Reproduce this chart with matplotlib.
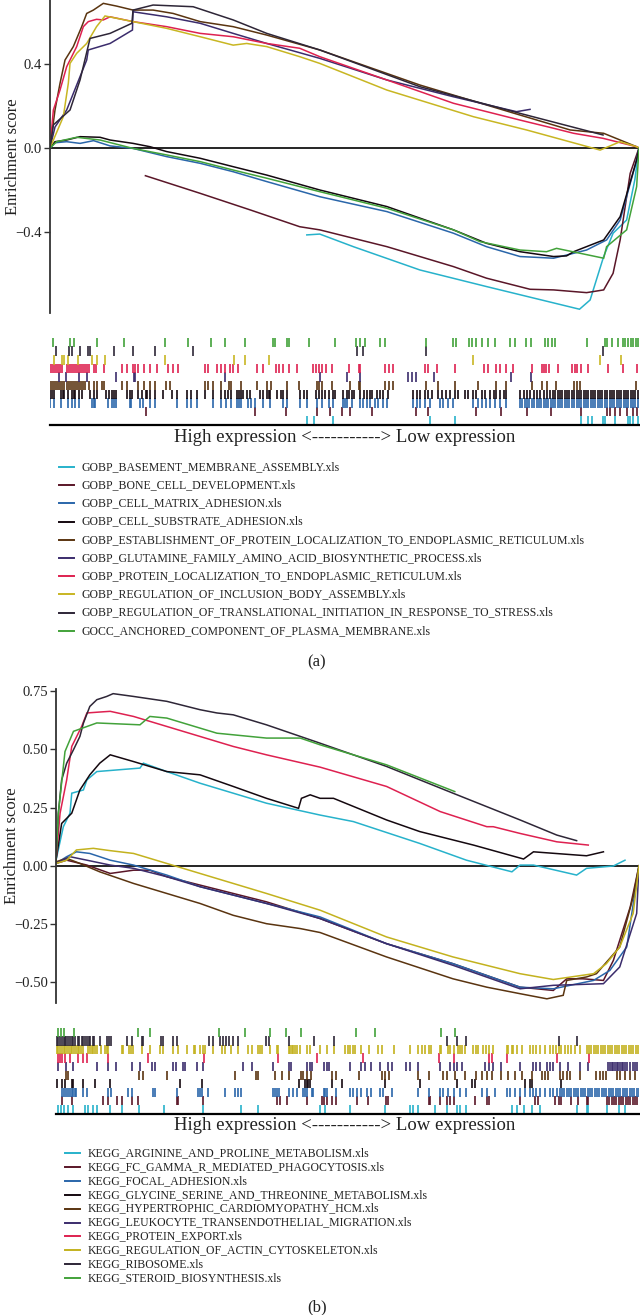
import matplotlib
matplotlib.use('Agg')
import matplotlib.pyplot as plt

plt.rcParams['font.family'] = ['Liberation Serif', 'DejaVu Serif']
plt.rcParams['axes.unicode_minus'] = True

# ---------------- panel (a) data: (rank %, enrichment score) ----------------
names_a = ['GOBP_BASEMENT_MEMBRANE_ASSEMBLY.xls', 'GOBP_BONE_CELL_DEVELOPMENT.xls',
           'GOBP_CELL_MATRIX_ADHESION.xls', 'GOBP_CELL_SUBSTRATE_ADHESION.xls',
           'GOBP_ESTABLISHMENT_OF_PROTEIN_LOCALIZATION_TO_ENDOPLASMIC_RETICULUM.xls',
           'GOBP_GLUTAMINE_FAMILY_AMINO_ACID_BIOSYNTHETIC_PROCESS.xls',
           'GOBP_PROTEIN_LOCALIZATION_TO_ENDOPLASMIC_RETICULUM.xls',
           'GOBP_REGULATION_OF_INCLUSION_BODY_ASSEMBLY.xls',
           'GOBP_REGULATION_OF_TRANSLATIONAL_INITIATION_IN_RESPONSE_TO_STRESS.xls',
           'GOCC_ANCHORED_COMPONENT_OF_PLASMA_MEMBRANE.xls']

a_basement = [(43.6, -0.414), (45.8, -0.41), (51.5, -0.47), (62.8, -0.581), (74.1, -0.66), (89.9, -0.768),
              (91.7, -0.724), (94.0, -0.517), (95.6, -0.406), (97.9, -0.343), (99.3, -0.15), (100, 0.0)]
a_bone = [(16.2, -0.132), (25.5, -0.216), (34.0, -0.295), (42.4, -0.375), (45.8, -0.39), (57.2, -0.47),
          (68.5, -0.565), (74.1, -0.62), (81.5, -0.673), (85.5, -0.676), (91.1, -0.689), (94.0, -0.676),
          (95.6, -0.597), (96.8, -0.438), (98.5, -0.121), (100, 0.0)]
a_matrix = [(0, 0), (0.85, 0.025), (2.83, 0.03), (5.1, 0.022), (7.4, 0.035), (10.2, 0.01), (14.1, -0.002),
            (19.8, -0.041), (25.5, -0.073), (31.1, -0.113), (36.8, -0.16), (45.8, -0.232), (57.2, -0.303),
            (68.5, -0.406), (74.1, -0.47), (79.8, -0.517), (85.5, -0.525), (87.7, -0.51), (91.1, -0.486),
            (94.5, -0.438), (96.8, -0.343), (99.3, -0.089), (100, 0)]
a_substrate = [(0, 0), (0.85, 0.03), (2.83, 0.038), (5.1, 0.054), (8.5, 0.051), (10.2, 0.038), (14.1, 0.022),
               (17.0, 0.006), (19.8, -0.017), (25.5, -0.049), (31.1, -0.089), (36.8, -0.129), (45.8, -0.2),
               (57.2, -0.279), (68.5, -0.39), (74.1, -0.454), (79.8, -0.494), (85.5, -0.517), (87.7, -0.514),
               (88.9, -0.494), (94.0, -0.438), (96.8, -0.327), (99.6, -0.057), (100, 0)]
a_establish = [(0, 0), (0.85, 0.181), (1.7, 0.308), (2.55, 0.419), (3.96, 0.483), (5.38, 0.578), (6.23, 0.641),
               (7.36, 0.657), (9.05, 0.689), (11.3, 0.676), (14.1, 0.657), (17.5, 0.657), (20.9, 0.641),
               (25.5, 0.602), (31.1, 0.578), (36.8, 0.538), (45.8, 0.467), (62.8, 0.30), (79.8, 0.157),
               (88.3, 0.086), (94.0, 0.07), (99.6, 0.006), (100, 0)]
a_glutamine = [(0, 0), (0.85, 0.10), (2.83, 0.181), (6.23, 0.419), (6.5, 0.467), (10.2, 0.498), (14.0, 0.562),
               (14.1, 0.649), (19.8, 0.625), (25.5, 0.594), (31.1, 0.546), (36.8, 0.498), (45.8, 0.427),
               (57.2, 0.324), (68.5, 0.244), (79.2, 0.173), (81.5, 0.184)]
a_protein_er = [(0, 0), (0.57, 0.181), (1.7, 0.276), (2.83, 0.387), (4.53, 0.483), (5.66, 0.578), (6.5, 0.602),
                (7.9, 0.613), (9.05, 0.61), (10.2, 0.625), (14.1, 0.602), (19.8, 0.578), (25.5, 0.546),
                (31.1, 0.53), (36.8, 0.498), (42.4, 0.475), (45.8, 0.435), (57.2, 0.324), (68.5, 0.213),
                (79.8, 0.133), (85.5, 0.094), (88.9, 0.07), (93.9, 0.046), (99.6, 0.006), (100, 0)]
a_inclusion = [(0, 0), (2.26, 0.149), (3.11, 0.308), (3.4, 0.403), (4.53, 0.451), (6.23, 0.498), (7.9, 0.578),
               (9.34, 0.629), (14.1, 0.602), (19.8, 0.57), (25.5, 0.53), (31.1, 0.49), (33.4, 0.498),
               (36.8, 0.483), (42.4, 0.435), (45.8, 0.403), (57.2, 0.276), (71.9, 0.149), (80.9, 0.086),
               (93.4, -0.01), (96.8, 0.03), (99.6, 0.006), (100, 0)]
a_translation = [(0, 0), (0.57, 0.11), (3.4, 0.181), (5.1, 0.324), (6.8, 0.522), (10.2, 0.546), (13.9, 0.594),
                 (14.1, 0.657), (17.5, 0.681), (24.3, 0.673), (31.1, 0.61), (36.8, 0.546), (45.8, 0.467),
                 (62.8, 0.292), (79.8, 0.165), (93.9, 0.062)]
a_anchored = [(0, 0), (1.13, 0.03), (4.53, 0.051), (8.5, 0.038), (14.1, -0.002), (19.8, -0.033), (25.5, -0.065),
              (31.1, -0.105), (36.8, -0.144), (45.8, -0.208), (57.2, -0.287), (68.5, -0.39), (73.0, -0.446),
              (79.8, -0.486), (84.3, -0.494), (86.0, -0.478), (94.0, -0.525), (94.5, -0.47), (97.9, -0.39),
              (99.6, -0.184), (100, 0)]

# hit positions (rank %) for the rug rows of panel (a)
ra_basement = [43.6, 44.8, 48.1, 64.5, 68.8, 90.1, 91.4, 92.0, 93.9, 94.2, 95.9, 98.2, 98.5, 98.9, 99.8]
ra_bone = [16.3, 34.8, 40.1, 45.4, 47.5, 49.5, 50.9, 54.6, 62.1, 64.2, 72.3, 76.6, 81.0, 85.0, 90.1, 94.5,
           95.0, 95.9, 96.8, 97.9, 99.0, 99.6]
ra_matrix = [0, 0.7, 1.8, 3.1, 3.7, 4.2, 5.0, 7.1, 7.4, 7.6, 9.9, 10.5, 10.9, 11.2, 13.5, 13.7, 15.2, 15.8,
             17.0, 17.8, 21.5, 23.2, 23.9, 24.9, 27.6, 29.1, 29.9, 30.8, 31.8, 32.1, 32.5, 33.7, 34.2, 34.8,
             36.2, 37.4, 39.6, 40.2, 42.4, 43.6, 45.3, 46.1, 47.3, 48.1, 49.8, 50.1, 50.5, 51.2, 52.6, 53.2,
             53.8, 54.3, 55.2, 55.7, 56.6, 57.2, 61.7, 62.3, 62.8, 63.7, 64.5, 66.2, 66.8, 67.6, 68.5, 71.9,
             72.7, 73.3, 74.1, 74.7, 75.6, 76.4, 77.5, 79.8, 80.2, 80.6, 81.0, 81.4, 81.8, 82.2, 82.6, 83.0,
             83.4, 83.8, 84.2, 84.6, 85.0, 85.4, 85.8, 86.2, 86.6, 87.0, 87.4, 87.8, 88.2, 88.6, 89.0, 89.4,
             89.8, 90.2, 90.6, 91.0, 91.4, 91.8, 92.2, 92.6, 93.0, 93.4, 93.8, 94.2, 94.6, 95.0, 95.4, 95.8,
             96.2, 96.6, 97.0, 97.4, 97.8, 98.2, 98.6, 99.0, 99.4, 99.8]
ra_substrate = [0, 0.3, 0.7, 1.8, 2.2, 2.4, 3.1, 3.7, 4.0, 4.2, 5.0, 5.5, 6.8, 7.4, 7.9, 9.5, 10.0, 10.5,
                10.9, 11.2, 13.1, 13.6, 13.9, 15.0, 15.6, 16.3, 16.5, 17.0, 17.8, 19.2, 20.7, 21.5, 23.2,
                23.9, 24.9, 26.3, 27.7, 29.1, 29.7, 30.3, 30.8, 31.7, 32.1, 32.5, 32.8, 33.5, 34.0, 35.7,
                36.2, 36.8, 37.1, 37.4, 38.6, 39.2, 39.6, 40.2, 42.4, 43.1, 43.6, 45.2, 45.6, 46.1, 46.7,
                47.3, 48.0, 48.4, 49.8, 50.4, 50.7, 51.2, 51.6, 52.6, 53.3, 53.8, 54.3, 54.6, 55.5, 56.0,
                56.5, 57.4, 61.7, 62.3, 62.8, 63.7, 64.2, 64.8, 65.9, 66.5, 67.3, 67.9, 68.8, 69.3, 70.5,
                71.0, 71.9, 72.4, 73.3, 73.9, 74.7, 75.3, 75.8, 76.4, 77.0, 77.5, 79.8, 80.4, 80.9, 81.5,
                82.1, 82.6, 83.2, 83.8, 84.3, 84.9, 85.4, 85.8, 86.2, 86.6, 87.0, 87.4, 87.8, 88.2, 88.6,
                89.0, 89.4, 89.8, 90.2, 90.6, 91.0, 91.4, 91.8, 92.2, 92.6, 93.0, 93.4, 93.8, 94.2, 94.6,
                95.0, 95.4, 95.8, 96.2, 96.6, 97.0, 97.4, 97.8, 98.2, 98.6, 99.0, 99.4, 99.8]
ra_establish = [0, 0.34, 0.68, 1.0, 1.36, 1.7, 2.04, 2.38, 2.94, 3.28, 3.62, 3.96, 4.3, 4.64, 4.98, 5.32, 5.66,
                6.0, 6.7, 7.4, 7.9, 8.8, 9.2, 12.2, 13.0, 15.0, 16.0, 16.9, 17.8, 19.7, 20.4, 26.3, 26.9, 27.7,
                29.1, 30.4, 30.8, 32.5, 35.1, 36.8, 37.6, 40.2, 42.2, 45.3, 45.7, 46.1, 47.8, 50.9, 52.4, 52.6,
                56.9, 57.6, 58.3, 63.9, 65.8, 68.8, 72.6, 75.8, 77.4, 81.9, 83.5, 84.3, 85.9, 88.9, 89.5, 90.0,
                99.5]
ra_glutamine = [1.6, 2.8, 5.0, 6.2, 11.2, 14.3, 14.4, 29.7, 45.8, 50.4, 52.7, 60.8, 61.4, 62.1, 65.2, 78.2, 81.6]
ra_protein_er = [0, 0.34, 0.68, 1.0, 1.36, 1.7, 2.04, 2.94, 3.28, 3.62, 3.96, 4.3, 4.64, 4.98, 5.32, 5.66, 6.0,
                 6.34, 6.68, 7.4, 7.8, 9.1, 12.2, 13.0, 14.1, 14.4, 15.0, 16.0, 16.9, 18.1, 20.0, 20.9, 21.8,
                 26.3, 26.9, 28.3, 29.1, 29.7, 30.6, 31.1, 32.0, 35.1, 36.2, 38.4, 38.9, 39.5, 40.5, 41.9, 44.7,
                 45.2, 45.6, 46.1, 46.9, 47.8, 50.8, 52.5, 52.6, 56.9, 57.6, 58.3, 63.7, 64.1, 65.7, 68.8, 73.7,
                 74.4, 75.8, 76.4, 77.4, 78.6, 81.8, 83.5, 83.9, 84.2, 84.8, 86.3, 88.7, 89.1, 89.5, 90.1, 91.4,
                 94.8, 97.2, 99.6]
ra_inclusion = [0.7, 2.1, 2.4, 3.1, 4.8, 7.1, 8.0, 9.3, 19.5, 31.2, 33.1, 37.1, 71.9, 93.4, 96.9]
ra_translation = [1.0, 3.3, 3.7, 5.1, 6.5, 6.8, 10.9, 14.1, 17.8, 24.2, 52.1, 53.2, 63.9, 93.9]
ra_anchored = [0.45, 3.4, 4.1, 8.0, 12.5, 19.5, 23.5, 27.4, 29.7, 33.1, 37.9, 38.2, 40.2, 40.6, 43.9, 48.4,
               51.9, 52.6, 53.5, 56.1, 56.9, 63.8, 68.5, 68.9, 71.1, 71.7, 72.3, 73.3, 74.3, 75.6, 78.1, 79.0,
               80.8, 81.7, 84.0, 84.6, 85.2, 85.7, 91.1, 94.2, 94.5, 95.5, 96.4, 97.3, 97.6, 98.2, 98.6, 99.0,
               99.5, 99.9]

# ---------------- panel (b) data ----------------
names_b = ['KEGG_ARGININE_AND_PROLINE_METABOLISM.xls', 'KEGG_FC_GAMMA_R_MEDIATED_PHAGOCYTOSIS.xls',
           'KEGG_FOCAL_ADHESION.xls', 'KEGG_GLYCINE_SERINE_AND_THREONINE_METABOLISM.xls',
           'KEGG_HYPERTROPHIC_CARDIOMYOPATHY_HCM.xls', 'KEGG_LEUKOCYTE_TRANSENDOTHELIAL_MIGRATION.xls',
           'KEGG_PROTEIN_EXPORT.xls', 'KEGG_REGULATION_OF_ACTIN_CYTOSKELETON.xls',
           'KEGG_RIBOSOME.xls', 'KEGG_STEROID_BIOSYNTHESIS.xls']

b_arginine = [(0, 0.024), (1.26, 0.168), (2.4, 0.226), (2.7, 0.312), (4.7, 0.326), (5.3, 0.369), (7.0, 0.405),
              (14.4, 0.42), (15.0, 0.441), (19.0, 0.405), (24.7, 0.355), (30.4, 0.312), (36.1, 0.269),
              (45.3, 0.218), (51.0, 0.19), (62.4, 0.096), (70.4, 0.024), (78.2, -0.026), (79.6, 0.003),
              (81.9, 0.003), (89.3, -0.04), (91.0, -0.011), (95.6, -0.001), (97.6, 0.024)]
b_fcgamma = [(0, 0.01), (1.83, 0.024), (5.3, 0.003), (9.3, -0.033), (13.3, -0.019), (16.1, -0.019),
             (19.0, -0.047), (24.7, -0.083), (36.1, -0.155), (45.3, -0.227), (56.7, -0.335), (68.1, -0.421),
             (79.6, -0.522), (85.3, -0.536), (87.6, -0.486), (90.4, -0.486), (93.9, -0.493), (95.6, -0.407),
             (98.5, -0.177), (100, 0)]
b_focal = [(0, 0.01), (1.83, 0.039), (3.5, 0.06), (5.8, 0.053), (9.3, 0.024), (13.3, 0.003), (19.0, -0.04),
           (24.7, -0.09), (36.1, -0.162), (45.3, -0.22), (56.7, -0.335), (68.1, -0.421), (79.6, -0.522),
           (85.3, -0.529), (92.2, -0.493), (95.0, -0.45), (97.9, -0.349), (100, 0)]
b_glycine = [(0, 0.024), (0.97, 0.182), (2.7, 0.226), (4.1, 0.326), (5.8, 0.391), (7.5, 0.441), (9.3, 0.477),
             (13.3, 0.448), (19.0, 0.405), (24.7, 0.391), (30.4, 0.341), (36.1, 0.29), (41.6, 0.247),
             (42.1, 0.29), (43.6, 0.305), (45.3, 0.29), (47.6, 0.29), (56.7, 0.197), (62.4, 0.147),
             (71.6, 0.089), (80.2, 0.029), (81.9, 0.06), (91.0, 0.043), (93.9, 0.06)]
b_hypertrophic = [(0, 0.017), (1.83, 0.032), (4.1, 0.01), (7.5, -0.026), (13.3, -0.076), (19.0, -0.119),
                  (24.7, -0.162), (30.4, -0.213), (36.1, -0.249), (41.9, -0.27), (45.3, -0.287), (56.7, -0.392),
                  (68.1, -0.486), (73.9, -0.522), (79.6, -0.55), (84.2, -0.572), (87.0, -0.557), (87.6, -0.493),
                  (91.0, -0.478), (92.7, -0.464), (96.7, -0.349), (99.0, -0.134), (100, 0)]
b_leukocyte = [(0, 0.01), (2.4, 0.039), (5.3, 0.024), (9.3, 0.003), (13.3, -0.011), (19.0, -0.047),
               (24.7, -0.09), (36.1, -0.162), (45.3, -0.227), (56.7, -0.335), (68.1, -0.428), (79.6, -0.529),
               (85.3, -0.514), (93.9, -0.507), (96.7, -0.435), (99.6, -0.205), (100, 0)]
b_export = [(0, 0.024), (0.7, 0.226), (1.83, 0.369), (2.7, 0.513), (4.4, 0.599), (5.3, 0.657), (7.5, 0.661),
            (9.3, 0.664), (13.3, 0.642), (19.0, 0.599), (24.7, 0.556), (30.4, 0.513), (36.1, 0.477),
            (45.3, 0.424), (56.7, 0.341), (65.9, 0.233), (73.9, 0.168), (75.0, 0.168), (79.6, 0.139),
            (85.9, 0.103), (91.3, 0.089)]
b_actin = [(0, 0.01), (1.83, 0.024), (3.5, 0.068), (6.4, 0.075), (9.3, 0.065), (13.3, 0.053), (19.0, 0.01),
           (24.7, -0.033), (36.1, -0.119), (45.3, -0.191), (56.7, -0.306), (68.1, -0.392), (79.6, -0.464),
           (85.3, -0.489), (92.2, -0.464), (94.4, -0.421), (96.7, -0.349), (99.0, -0.205), (100, 0)]
b_ribosome = [(0, 0.024), (0.4, 0.226), (0.97, 0.369), (1.83, 0.441), (3.0, 0.499), (4.1, 0.556), (4.7, 0.613),
              (5.8, 0.685), (7.0, 0.714), (8.7, 0.728), (9.8, 0.74), (13.3, 0.728), (19.0, 0.707), (24.7, 0.671),
              (27.6, 0.657), (30.4, 0.649), (36.1, 0.606), (45.3, 0.527), (56.7, 0.427), (68.1, 0.312),
              (79.6, 0.197), (85.9, 0.132), (89.3, 0.108)]
b_steroid = [(0, 0.024), (0.4, 0.226), (1.54, 0.491), (3.0, 0.578), (7.0, 0.614), (14.4, 0.606), (16.1, 0.642),
             (19.0, 0.635), (27.6, 0.57), (36.1, 0.549), (41.9, 0.549), (45.3, 0.52), (56.7, 0.434), (68.4, 0.319)]

rb_arginine = [0.4, 0.8, 1.4, 2.1, 2.9, 5.0, 5.5, 6.4, 7.0, 9.3, 11.3, 14.3, 18.5, 25.3, 31.8, 34.7, 45.3, 46.1,
               50.4, 56.4, 60.7, 61.3, 62.1, 65.0, 67.0, 68.7, 69.3, 70.4, 78.2, 79.0, 80.2, 81.6, 83.0, 89.3,
               91.0, 91.3, 94.5, 96.5, 97.6]
rb_fcgamma = [1.0, 2.7, 8.1, 9.0, 10.4, 11.4, 13.0, 14.1, 20.7, 21.0, 25.3, 37.9, 38.4, 39.6, 43.0, 45.6, 45.9,
              46.4, 47.3, 48.1, 51.6, 53.6, 56.6, 57.0, 63.9, 64.1, 65.9, 67.0, 67.6, 68.2, 71.9, 73.9, 74.2,
              79.6, 82.2, 82.7, 85.6, 86.2, 86.7, 88.4, 89.6, 91.0, 91.3, 94.5, 94.9, 95.3, 95.7, 96.1, 96.5,
              96.9, 97.3, 97.7, 98.1, 98.5, 98.9, 99.3, 99.7]
rb_focal = [1.0, 1.4, 1.7, 2.1, 2.4, 2.7, 3.0, 3.3, 3.5, 4.7, 5.3, 9.0, 9.4, 12.4, 13.0, 16.7, 17.0, 20.7, 24.4,
            24.7, 25.0, 26.1, 29.0, 30.7, 31.3, 31.8, 37.3, 37.6, 37.9, 38.3, 39.9, 40.7, 41.3, 42.4, 42.7, 43.0,
            43.9, 44.1, 45.9, 46.2, 46.4, 48.1, 50.4, 51.0, 51.6, 52.4, 53.3, 54.1, 55.6, 56.1, 57.6, 62.1, 63.9,
            65.9, 66.4, 67.3, 68.2, 69.3, 70.4, 73.0, 73.9, 75.3, 77.3, 77.9, 78.7, 79.6, 80.4, 81.3, 81.9, 82.4,
            83.0, 83.9, 84.7, 85.3, 85.9, 86.4, 86.8, 87.2, 87.6, 88.0, 88.4, 88.8, 89.2, 89.6, 90.0, 90.4, 90.8,
            91.2, 91.6, 92.0, 92.4, 92.8, 93.2, 93.6, 94.0, 94.4, 94.8, 95.2, 95.6, 96.0, 96.4, 96.8, 97.2, 97.6,
            98.0, 98.4, 98.8, 99.2, 99.6, 100.0]
rb_glycine = [0.1, 1.0, 1.5, 2.7, 3.0, 4.7, 6.7, 9.3, 21.3, 25.0, 41.6, 42.7, 43.0, 43.3, 43.6, 47.3, 49.0, 56.4,
              62.4, 68.7, 71.3, 71.9, 80.4, 81.3, 81.6, 86.7]
rb_hypertrophic = [1.8, 2.1, 14.3, 14.9, 19.0, 30.7, 34.3, 34.7, 37.6, 38.7, 39.9, 42.1, 42.4, 43.0, 43.8, 47.3,
                   48.1, 52.0, 55.9, 56.4, 57.2, 62.1, 64.0, 66.4, 67.0, 68.4, 70.2, 72.1, 73.0, 73.9, 74.7, 76.4,
                   77.6, 78.7, 79.9, 81.6, 83.3, 83.9, 84.4, 86.4, 87.0, 87.6, 88.2, 89.9, 92.7, 93.3, 93.9, 94.4,
                   96.2, 96.7, 97.6, 98.5, 99.3]
rb_leukocyte = [0.4, 1.7, 3.0, 7.0, 9.0, 10.3, 13.0, 14.4, 16.4, 17.0, 20.1, 20.6, 21.7, 22.1, 24.1, 25.3, 32.1,
                33.6, 37.3, 39.9, 40.3, 43.0, 43.6, 43.9, 45.9, 46.4, 46.9, 50.4, 52.4, 53.0, 54.1, 55.5, 57.0,
                57.6, 60.1, 60.7, 62.1, 65.9, 67.6, 68.2, 68.7, 69.6, 73.6, 74.2, 75.0, 76.4, 79.6, 81.9, 82.4,
                83.0, 84.2, 84.7, 85.3, 86.4, 87.9, 89.8, 91.3, 94.7, 95.0, 95.3, 95.6, 95.9, 96.2, 96.4, 96.7,
                97.0, 97.3, 97.6, 98.0, 98.5, 99.0, 99.3, 99.7]
rb_export = [0.4, 0.7, 1.1, 1.5, 2.4, 3.8, 4.7, 5.3, 9.0, 15.8, 25.4, 38.1, 44.7, 52.6, 65.7, 68.2, 74.3, 74.7,
             77.3, 85.9, 91.5]
rb_actin = [0.1, 0.4, 0.7, 1.0, 1.3, 1.6, 1.9, 2.2, 2.5, 2.8, 3.1, 3.4, 3.7, 4.0, 4.3, 4.7, 5.5, 5.8, 6.1, 6.4,
            6.7, 7.0, 7.8, 8.4, 8.7, 9.0, 11.3, 11.5, 12.6, 12.8, 13.2, 14.7, 16.1, 17.8, 18.3, 20.1, 21.0, 22.4,
            23.6, 23.8, 24.7, 25.3, 25.6, 27.0, 28.4, 29.0, 30.1, 31.3, 33.0, 33.6, 34.7, 35.0, 35.4, 36.7, 37.9,
            38.1, 39.9, 40.1, 40.4, 40.7, 41.0, 41.3, 41.9, 43.0, 43.6, 45.3, 46.4, 47.6, 49.6, 50.1, 50.4, 50.9,
            51.3, 52.4, 53.7, 55.3, 55.9, 57.9, 60.7, 62.1, 62.7, 63.3, 63.9, 64.4, 65.9, 66.1, 67.3, 67.6, 68.2,
            69.0, 69.3, 69.6, 70.2, 71.6, 72.0, 72.4, 73.3, 73.8, 74.2, 75.0, 77.3, 77.6, 78.2, 78.4, 79.0, 79.9,
            81.3, 81.9, 82.4, 83.0, 83.9, 84.7, 85.3, 85.8, 86.2, 86.7, 87.3, 87.9, 88.4, 89.0, 89.8, 91.0, 91.4,
            91.8, 92.2, 92.6, 93.0, 93.4, 93.8, 94.2, 94.6, 95.0, 95.4, 95.8, 96.2, 96.6, 97.0, 97.4, 97.8, 98.2,
            98.6, 99.0, 99.4, 99.8]
rb_ribosome = [0.1, 0.4, 0.7, 1.0, 1.3, 1.5, 1.8, 2.1, 2.4, 2.7, 3.0, 3.3, 3.7, 4.0, 4.4, 4.7, 5.0, 5.3, 5.7, 5.9,
               6.3, 6.6, 7.5, 8.7, 9.1, 9.5, 12.2, 13.0, 14.7, 15.0, 18.0, 18.4, 20.1, 20.8, 26.3, 26.9, 28.1,
               28.6, 29.2, 29.7, 30.3, 31.3, 36.1, 36.6, 39.9, 44.3, 47.7, 67.0, 68.7, 70.3, 86.3, 89.3]
rb_steroid = [0.4, 0.8, 1.4, 3.1, 14.1, 16.1, 28.0, 32.4, 36.7, 39.4, 42.1, 51.5, 54.7, 66.0, 68.4]

colors_a = ['#27b2cb', '#5a1628', '#2a66aa', '#14080f', '#5a3410',
            '#3b2c6c', '#de2150', '#c8b622', '#2e2637', '#42a23a']
colors_b = ['#27b2cb', '#5a1628', '#2a66aa', '#14080f', '#5a3410',
            '#3b2c6c', '#de2150', '#c3b21e', '#2e2637', '#42a23a']

W, H = 640, 1315
fig = plt.figure(figsize=(W / 100, H / 100), dpi=100)


def box(l, t, r, b):
    # axes placed by pixel edges (left, top, right, bottom)
    return fig.add_axes([l / W, 1 - b / H, (r - l) / W, (b - t) / H])


ov = fig.add_axes([0, 0, 1, 1])
ov.set_xlim(0, W)
ov.set_ylim(H, 0)
ov.axis('off')


def panel(curves, rugs, names, colors, main, ylim, ticks, ticklabels, label_x, rug, text_y,
          leg_y0, leg_dy, leg_x, cap, cap_y):
    ax = box(*main)
    for pts, c in zip(curves, colors):
        ax.plot([p[0] for p in pts], [p[1] for p in pts], color=c, lw=1.1, solid_joinstyle='miter')
    ax.axhline(0, color='black', lw=1.2, zorder=0)
    ax.set_xlim(0, 100)
    ax.set_ylim(*ylim)
    ax.set_xticks([])
    ax.set_yticks(ticks)
    ax.set_yticklabels(ticklabels)
    for s in ['top', 'right', 'bottom']:
        ax.spines[s].set_visible(False)
    ax.spines['left'].set_color('#333333')
    ax.spines['left'].set_linewidth(1.3)
    ax.tick_params(axis='y', length=4, width=1, color='#333333', labelsize=10.5, pad=2, labelcolor='#222222')
    ax.set_ylabel('Enrichment score', fontsize=12, color='#222222')
    ax.yaxis.set_label_coords(label_x, 0.5)
    ax.patch.set_alpha(0)

    rx = box(*rug)
    for k, (hits, c) in enumerate(zip(rugs, colors)):
        rx.vlines(hits, k, k + 1.1, colors=c, lw=1.2)
    rx.set_xlim(0, 100)
    rx.set_ylim(0, 10.2)
    rx.set_xticks([])
    rx.set_yticks([])
    for s in ['top', 'right', 'left']:
        rx.spines[s].set_visible(False)
    rx.spines['bottom'].set_linewidth(1.6)
    rx.spines['bottom'].set_color('black')
    rx.patch.set_alpha(0)

    ov.text(345, text_y, 'High expression <-----------> Low expression', ha='center', va='center',
            fontsize=13.5, color='#222222')
    for i, (n, c) in enumerate(zip(names, colors)):
        y = leg_y0 + i * leg_dy
        ov.plot([leg_x, leg_x + 15], [y, y], color=c, lw=1.4)
        ov.text(leg_x + 23, y, n, va='center', ha='left', fontsize=8.5, color='#222222')
    ov.text(317, cap_y, cap, ha='center', va='center', fontsize=12, color='#222222')


panel([a_basement, a_bone, a_matrix, a_substrate, a_establish, a_glutamine, a_protein_er, a_inclusion,
       a_translation, a_anchored],
      [ra_basement, ra_bone, ra_matrix, ra_substrate, ra_establish, ra_glutamine, ra_protein_er,
       ra_inclusion, ra_translation, ra_anchored],
      names_a, colors_a, (50, 0, 639, 313), (-0.786, 0.705), [-0.4, 0.0, 0.4], ['\u22120.4', '0.0', '0.4'],
      -0.050, (50, 337, 639, 425), 437, 467, 18.2, 59, '(a)', 662)

panel([b_arginine, b_fcgamma, b_focal, b_glycine, b_hypertrophic, b_leukocyte, b_export, b_actin,
       b_ribosome, b_steroid],
      [rb_arginine, rb_fcgamma, rb_focal, rb_glycine, rb_hypertrophic, rb_leukocyte, rb_export,
       rb_actin, rb_ribosome, rb_steroid],
      names_b, colors_b, (56, 689, 639, 1003), (-0.59, 0.76), [-0.5, -0.25, 0.0, 0.25, 0.5, 0.75],
      ['\u22120.50', '\u22120.25', '0.00', '0.25', '0.50', '0.75'],
      -0.061, (56, 1027, 639, 1114), 1125, 1153, 13.9, 65, '(b)', 1307)

fig.savefig('out.png', dpi=100)
